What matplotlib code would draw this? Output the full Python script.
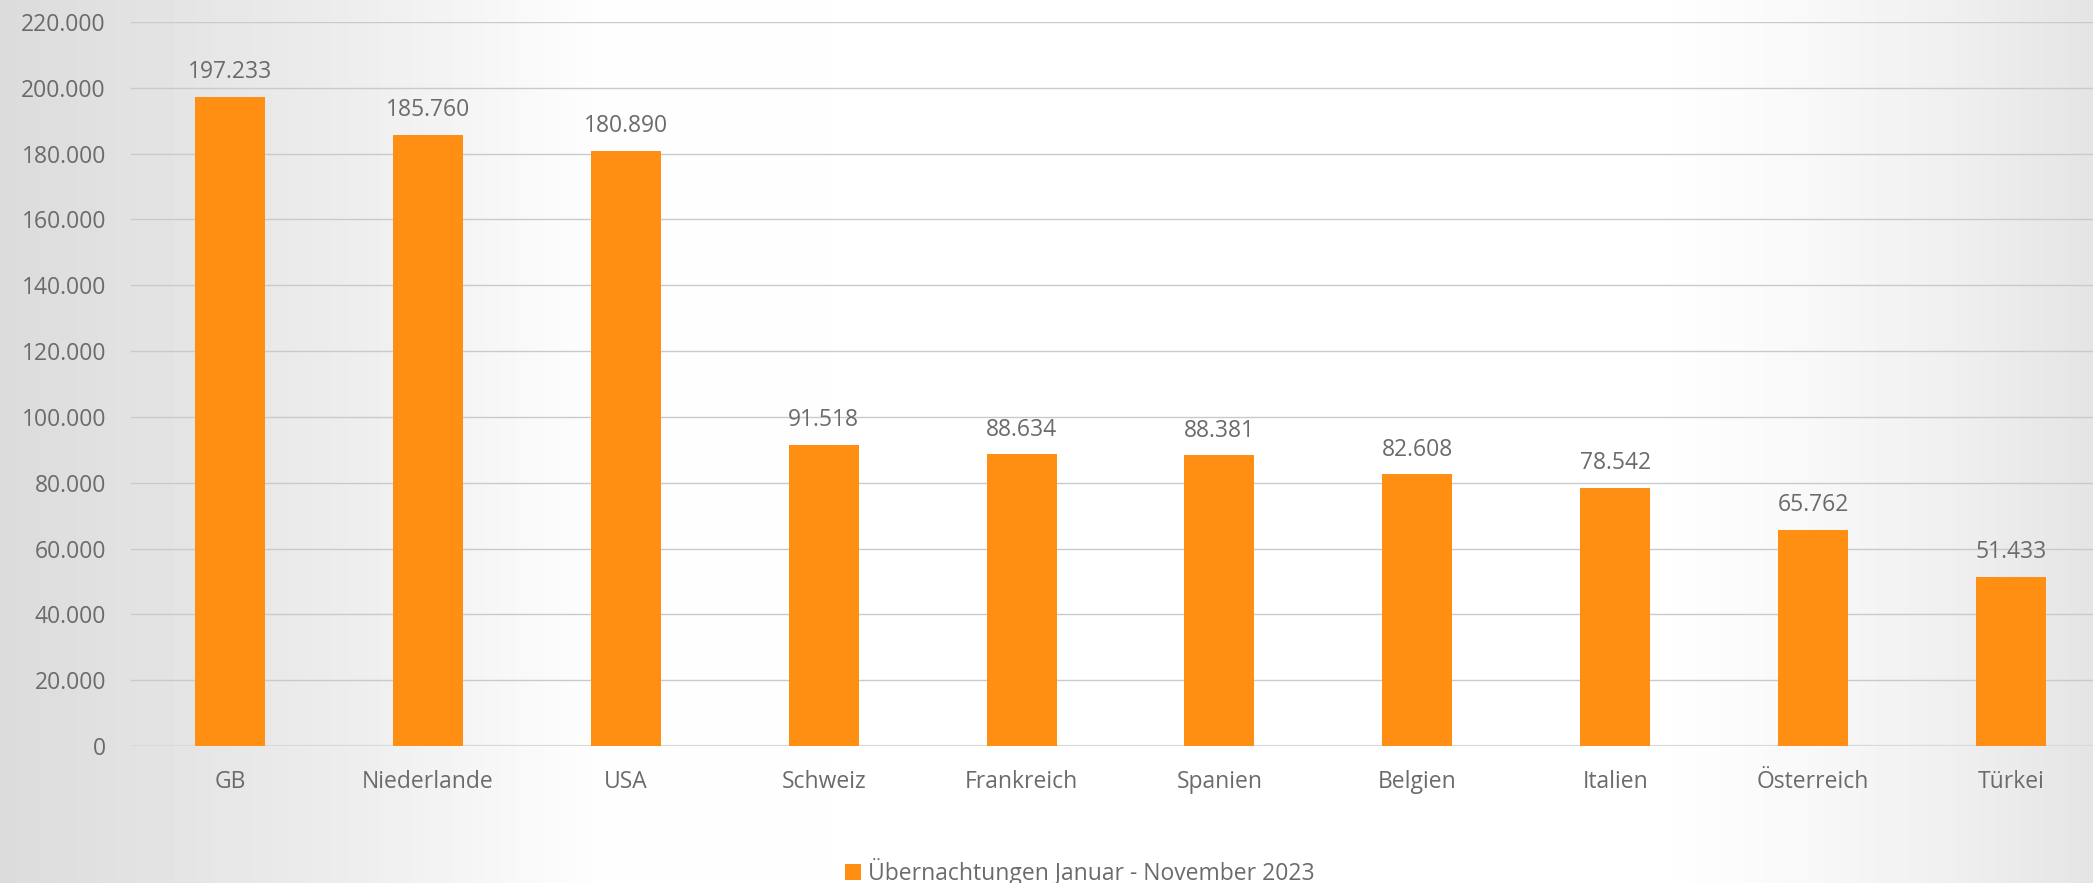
import matplotlib
matplotlib.use("Agg")
import matplotlib.pyplot as plt
import numpy as np

categories = ["GB", "Niederlande", "USA", "Schweiz", "Frankreich", "Spanien",
              "Belgien", "Italien", "Österreich", "Türkei"]
values = [197233, 185760, 180890, 91518, 88634, 88381, 82608, 78542, 65762, 51433]
series_label = "Übernachtungen Januar - November 2023"
yticks = list(range(0, 220001, 20000))

W, H = 2093, 883
DPI = 100
TEXT = "#6b6b6b"
BAR = "#FE8F13"
plt.rcParams["font.family"] = ["Open Sans", "DejaVu Sans"]

fig = plt.figure(figsize=(W / DPI, H / DPI), dpi=DPI)

# background gradient
bg = fig.add_axes([0, 0, 1, 1], zorder=-10)
xs = np.linspace(0, W, 600)
stops_x = [0, 150, 350, 600, 1650, 1800, 1950, 2093]
stops_v = [0.86, 0.89, 0.93, 0.995, 1.0, 0.975, 0.94, 0.895]
grad = np.interp(xs, stops_x, stops_v)
img = np.tile(grad, (10, 1))
bg.imshow(img, cmap="gray", vmin=0, vmax=1, aspect="auto", extent=[0, 1, 0, 1])
bg.set_axis_off()

left = 131 / W
right = 2110 / W
bottom = (H - 746) / H
top = (H - 22) / H
ax = fig.add_axes([left, bottom, right - left, top - bottom])
ax.patch.set_alpha(0)

x = np.arange(len(categories))
bars = ax.bar(x, values, width=0.354, color=BAR, label=series_label, zorder=3)
ax.set_xlim(-0.5, len(categories) - 0.5)
ax.set_ylim(0, 220000)
ax.set_yticks(yticks)
ax.set_yticklabels([f"{v:,}".replace(",", ".") for v in yticks])
ax.set_xticks(x)
ax.set_xticklabels(categories)
for s in ax.spines.values():
    s.set_visible(False)
ax.tick_params(axis="y", length=0, pad=18, labelsize=16.5, labelcolor=TEXT)
ax.tick_params(axis="x", length=0, pad=17.5, labelsize=16.5, labelcolor=TEXT)
ax.grid(axis="y", color="#cacaca", linewidth=1.0, zorder=0)
ax.set_axisbelow(True)
ax.axhline(0, color="#d9d9d9", linewidth=1.6, zorder=2)

ax.bar_label(bars, labels=[f"{v:,}".replace(",", ".") for v in values],
             padding=9, fontsize=16.5, color=TEXT)

fig.legend(handles=[bars], labels=[series_label], loc="lower center",
           bbox_to_anchor=(1080 / W, -0.027), frameon=False, fontsize=16.5,
           labelcolor=TEXT, handlelength=0.7, handleheight=0.7, handletextpad=0.3)

fig.savefig("out.png", dpi=DPI)
